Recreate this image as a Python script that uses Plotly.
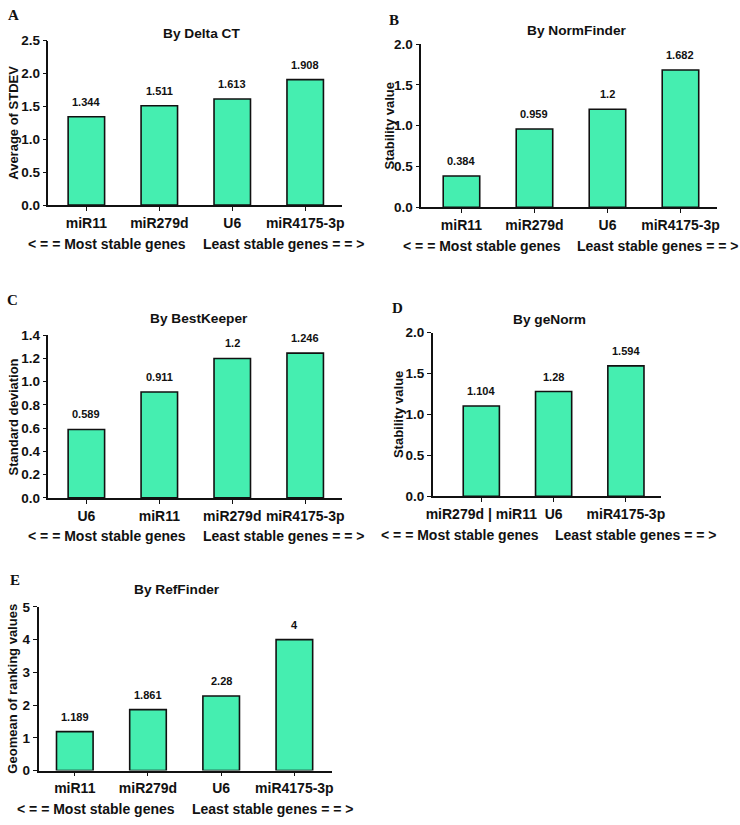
import plotly.graph_objects as go

W, H = 740, 825

# ---------------- data ----------------
cats_delta = ["miR11", "miR279d", "U6", "miR4175-3p"]
vals_delta = [1.344, 1.511, 1.613, 1.908]
yticks_delta = [0, 0.5, 1.0, 1.5, 2.0, 2.5]

cats_norm = ["miR11", "miR279d", "U6", "miR4175-3p"]
vals_norm = [0.384, 0.959, 1.2, 1.682]
yticks_norm = [0, 0.5, 1.0, 1.5, 2.0]

cats_best = ["U6", "miR11", "miR279d", "miR4175-3p"]
vals_best = [0.589, 0.911, 1.2, 1.246]
yticks_best = [0, 0.2, 0.4, 0.6, 0.8, 1.0, 1.2, 1.4]

cats_genorm = ["miR279d | miR11", "U6", "miR4175-3p"]
vals_genorm = [1.104, 1.28, 1.594]
yticks_genorm = [0, 0.5, 1.0, 1.5, 2.0]

cats_ref = ["miR11", "miR279d", "U6", "miR4175-3p"]
vals_ref = [1.189, 1.861, 2.28, 4]
yticks_ref = [0, 1, 2, 3, 4, 5]

titles = ["By Delta CT", "By NormFinder", "By BestKeeper", "By geNorm", "By RefFinder"]
ytitles = ["Average of STDEV", "Stability value", "Standard deviation", "Stability value",
           "Geomean of ranking values"]
letters = ["A", "B", "C", "D", "E"]
left_note = "< = = Most stable genes"
right_note = "Least stable genes = = >"

# ---------------- layout (pixel geometry) ----------------
panels = [
    dict(cats=cats_delta, vals=vals_delta, yt=yticks_delta, fmt=".1f",
         box=(42, 340, 34.3, 201.7), xr=(-0.52, 3.51), tpos=(197, 27), lpos=(7, 8),
         ytx=7, note_y=241, notes=(101.5, 280)),
    dict(cats=cats_norm, vals=vals_norm, yt=yticks_norm, fmt=".1f",
         box=(420, 720, 37.7, 204), xr=(-0.55, 3.504), tpos=(578, 24), lpos=(392, 13),
         ytx=388, note_y=243, notes=(481.5, 659.5)),
    dict(cats=cats_best, vals=vals_best, yt=yticks_best, fmt=".1f",
         box=(42, 340, 334.3, 500), xr=(-0.52, 3.51), tpos=(195, 317), lpos=(6, 298),
         ytx=7, note_y=539, notes=(101.5, 280)),
    dict(cats=cats_genorm, vals=vals_genorm, yt=yticks_genorm, fmt=".1f",
         box=(431.7, 663.3, 331.7, 498.3), xr=(-0.67, 2.49), tpos=(550, 318), lpos=(396, 307),
         ytx=397, note_y=538, notes=(459, 637)),
    dict(cats=cats_ref, vals=vals_ref, yt=yticks_ref, fmt="d",
         box=(32, 329, 611, 777.7), xr=(-0.495, 3.508), tpos=(172, 593), lpos=(8, 584),
         ytx=6, note_y=817, notes=(90, 269)),
]

FONT = "Liberation Sans, Arial, sans-serif"
BAR_COLOR = "#45EEB0"
INK = "#111111"

fig = go.Figure()
annotations = []


def px_x(x):
    return x / W


def px_y(y):
    return 1 - y / H


for i, p in enumerate(panels, start=1):
    xa = "x" if i == 1 else f"x{i}"
    ya = "y" if i == 1 else f"y{i}"
    x0, x1, ytop, ybot = p["box"]
    fig.add_trace(go.Bar(
        x=p["cats"], y=p["vals"], xaxis=xa, yaxis=ya, width=0.5,
        marker=dict(color=BAR_COLOR, line=dict(color=INK, width=1.6)),
        showlegend=False, hoverinfo="x+y",
    ))
    fig.layout[f"xaxis{'' if i == 1 else i}"] = dict(
        domain=[px_x(x0), px_x(x1)], anchor=ya, type="category",
        categoryorder="array", categoryarray=p["cats"],
        range=list(p["xr"]), showline=True, linecolor=INK, linewidth=1.6,
        ticks="outside", ticklen=4, tickwidth=1.4, tickcolor=INK,
        tickfont=dict(family=FONT, size=14, color=INK, weight="bold"),
        showgrid=False, zeroline=False, fixedrange=True,
    )
    fig.layout[f"yaxis{'' if i == 1 else i}"] = dict(
        domain=[px_y(ybot), px_y(ytop)], anchor=xa,
        range=[0, p["yt"][-1]], tickvals=p["yt"], tickformat=p["fmt"],
        showline=True, linecolor=INK, linewidth=1.6,
        ticks="outside", ticklen=4, tickwidth=1.4, tickcolor=INK,
        tickfont=dict(family=FONT, size=13.5, color=INK, weight="bold"),
        showgrid=False, zeroline=False, fixedrange=True,
    )
    for c, v in zip(p["cats"], p["vals"]):
        annotations.append(dict(
            x=c, y=v, xref=xa, yref=ya, text=f"{v:g}", showarrow=False,
            yanchor="bottom", yshift=7,
            font=dict(family=FONT, size=11, color=INK, weight="bold"),
        ))
    annotations.append(dict(
        x=px_x(p["tpos"][0]), y=px_y(p["tpos"][1]), xref="paper", yref="paper",
        text=titles[i - 1], showarrow=False, xanchor="center", yanchor="middle",
        font=dict(family=FONT, size=13.7, color=INK, weight="bold"),
    ))
    annotations.append(dict(
        x=px_x(p["lpos"][0]), y=px_y(p["lpos"][1]), xref="paper", yref="paper",
        text=letters[i - 1], showarrow=False, xanchor="center", yanchor="middle",
        font=dict(family="Liberation Serif, Times New Roman, serif", size=15,
                  color=INK, weight="bold"),
    ))
    annotations.append(dict(
        x=px_x(p["ytx"]), y=px_y((ytop + ybot) / 2), xref="paper", yref="paper",
        text=ytitles[i - 1], showarrow=False, textangle=-90,
        xanchor="center", yanchor="middle",
        font=dict(family=FONT, size=13, color=INK, weight="bold"),
    ))
    for cx, txt in zip(p["notes"], (left_note, right_note)):
        annotations.append(dict(
            x=px_x(cx), y=px_y(p["note_y"]), xref="paper", yref="paper",
            text=txt, showarrow=False, xanchor="center", yanchor="middle",
            font=dict(family=FONT, size=14, color=INK, weight="bold"),
        ))

fig.update_layout(
    width=W, height=H, margin=dict(l=0, r=0, t=0, b=0),
    paper_bgcolor="white", plot_bgcolor="white",
    annotations=annotations, bargap=0.5,
)

POST = (
    "var gd=document.getElementById('{plot_id}');"
    "gd.style.position='fixed';gd.style.left='0px';gd.style.top='0px';"
    "var de=document.documentElement;de.style.margin='0';de.style.padding='0';"
    "de.style.overflow='hidden';"
    "document.body.style.margin='0';document.body.style.padding='0';"
    "document.body.style.overflow='hidden';"
)

fig.write_html("out.html", config={"displayModeBar": False}, post_script=POST)
